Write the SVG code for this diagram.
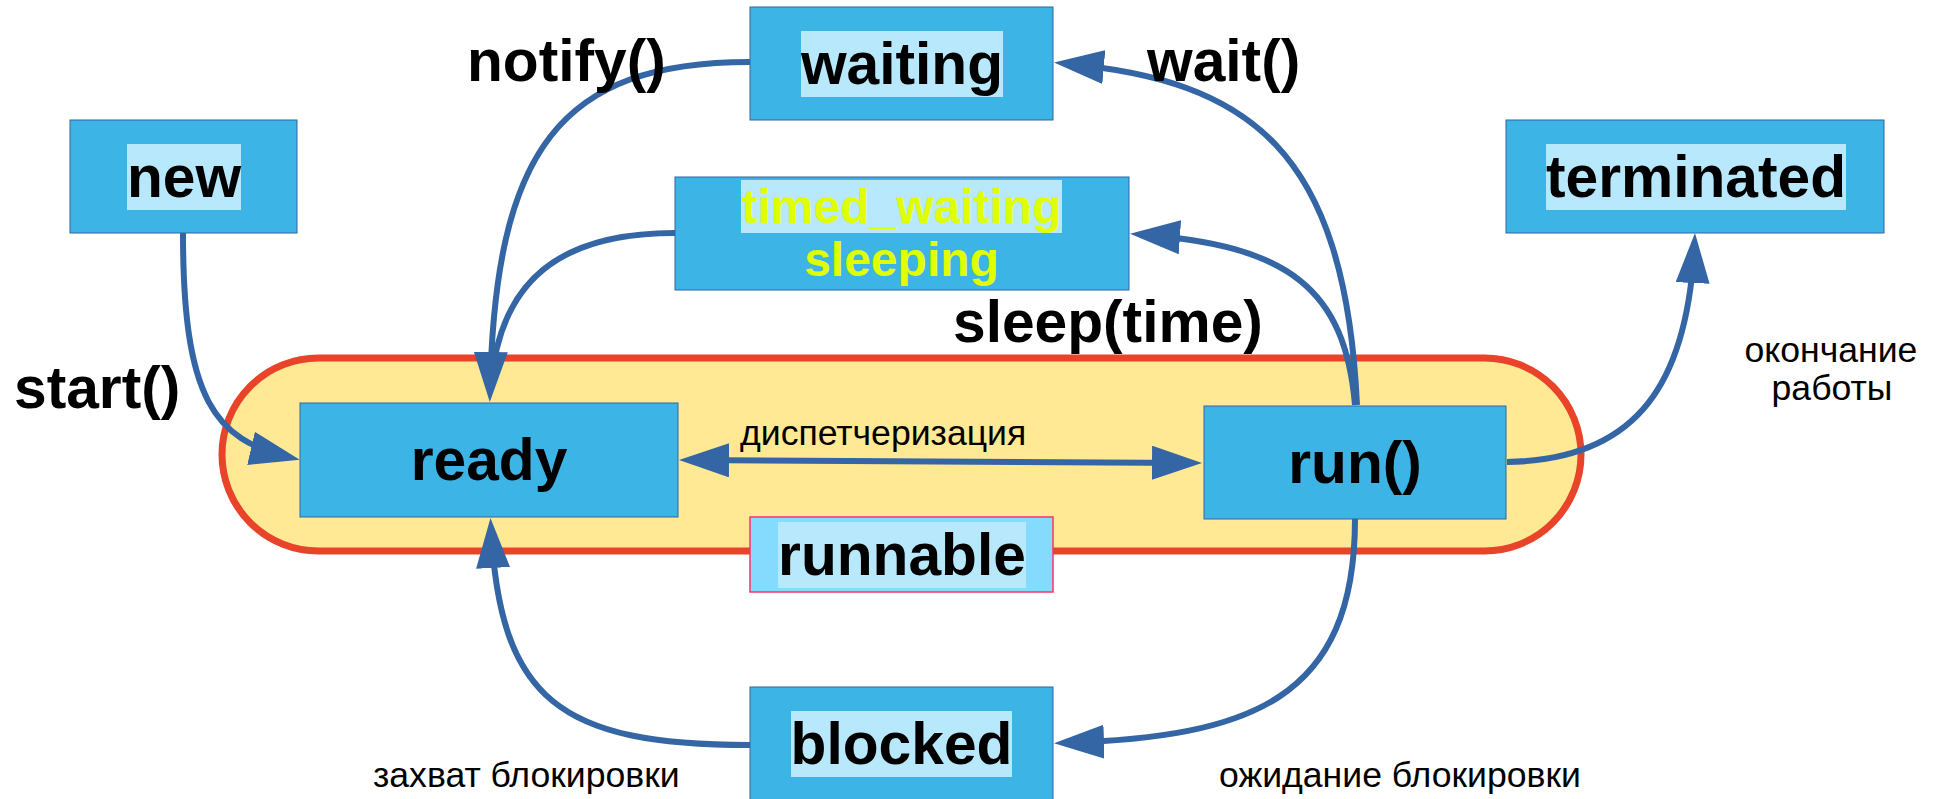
<svg xmlns="http://www.w3.org/2000/svg" width="1939" height="799" viewBox="0 0 1939 799">
<defs>
<style>
.box{fill:#3db4e6;stroke:#3465a4;stroke-width:1}
.hl{fill:#b8e8fc}
.big{font-family:"Liberation Sans",Arial,sans-serif;font-weight:bold;font-size:58.7px;fill:#000}
.mid{font-family:"Liberation Sans",Arial,sans-serif;font-weight:bold;font-size:48px;fill:#e0ff00}
.small{font-family:"Liberation Sans",Arial,sans-serif;font-size:35.6px;fill:#000}
.c{text-anchor:middle}
.conn{fill:none;stroke:#3465a4;stroke-width:6}
</style>
<marker id="arr" markerUnits="userSpaceOnUse" markerWidth="50" markerHeight="34" viewBox="0 0 50 34" refX="40" refY="17" orient="auto-start-reverse">
<path d="M0,0 L50,17 L0,34 Z" fill="#3465a4"/>
</marker>
</defs>
<rect width="1939" height="799" fill="#fff"/>

<g id="runnable-area">
<rect x="222" y="358" width="1359" height="193" rx="96.5" ry="96.5" fill="#ffe994" stroke="#e9432a" stroke-width="7"/>
</g>

<g id="new">
<rect class="box" x="70" y="120" width="227" height="113"/>
<rect class="hl" x="127" y="144" width="114" height="66"/>
<text class="big c" x="184" y="197">new</text>
</g>

<g id="waiting">
<rect class="box" x="750" y="7" width="303" height="113"/>
<rect class="hl" x="801" y="31" width="202" height="66"/>
<text class="big c" x="902" y="84">waiting</text>
</g>

<g id="timed_waiting">
<rect class="box" x="675" y="177" width="454" height="113"/>
<rect class="hl" x="741" y="180" width="321" height="53"/>
<text class="mid c" x="901.5" y="223">timed_waiting</text>
<text class="mid c" x="901.5" y="276">sleeping</text>
</g>

<g id="terminated">
<rect class="box" x="1506" y="120" width="378" height="113"/>
<rect class="hl" x="1546" y="144" width="300" height="66"/>
<text class="big c" x="1696" y="197">terminated</text>
</g>

<g id="ready">
<rect class="box" x="300" y="403" width="378" height="114"/>
<text class="big c" x="489" y="480">ready</text>
</g>

<g id="run">
<rect class="box" x="1204" y="406" width="302" height="113"/>
<text class="big c" x="1355" y="483">run()</text>
</g>

<g id="runnable">
<rect x="750" y="517" width="303" height="75" fill="#84dbfe" stroke="#ff3366" stroke-width="1.5"/>
<rect class="hl" x="778" y="522" width="248" height="66"/>
<text class="big c" x="902" y="575">runnable</text>
</g>

<g id="blocked">
<rect class="box" x="750" y="687" width="303" height="113"/>
<rect class="hl" x="791" y="711" width="221" height="66"/>
<text class="big c" x="901.5" y="764">blocked</text>
</g>

<g id="connectors">
<path class="conn" d="M183,233 C183,400 215,440 290,457.4" marker-end="url(#arr)"/>
<path class="conn" d="M750,62 C560,62 495,150 490,392" marker-end="url(#arr)"/>
<path class="conn" d="M675,233 C560,233 500,280 491,385"/>
<path class="conn" d="M1357,405 C1345,150 1250,80 1064,63.5" marker-end="url(#arr)"/>
<path class="conn" d="M1355,405 C1345,290 1290,245 1140,234.5" marker-end="url(#arr)"/>
<path class="conn" d="M689,460.1 L1192,462.9" marker-start="url(#arr)" marker-end="url(#arr)"/>
<path class="conn" d="M750,745 C560,745 500,700 491,528" marker-end="url(#arr)"/>
<path class="conn" d="M1355,519 C1355,700 1250,737 1064,743" marker-end="url(#arr)"/>
<path class="conn" d="M1507,462 C1640,460 1688,380 1694.5,243" marker-end="url(#arr)"/>
</g>

<g id="labels">
<text class="big" x="467" y="81">notify()</text>
<text class="big" x="1147" y="81">wait()</text>
<text class="big" x="14" y="408">start()</text>
<text class="big" x="953" y="342">sleep(time)</text>
<text class="small" x="740" y="445">диспетчеризация</text>
<text class="small c" x="1831" y="362">окончание</text>
<text class="small c" x="1832" y="400">работы</text>
<text class="small" x="373" y="787">захват блокировки</text>
<text class="small" x="1219" y="787">ожидание блокировки</text>
</g>
</svg>
